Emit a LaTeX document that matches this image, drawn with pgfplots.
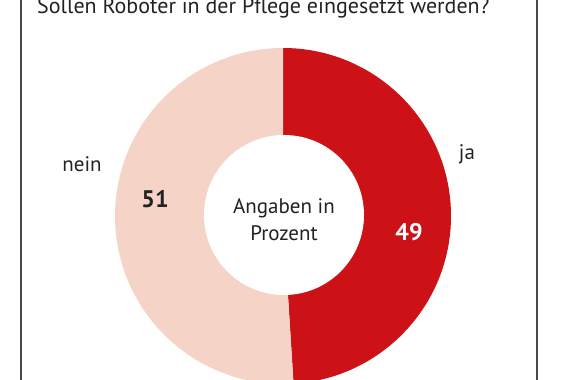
\documentclass[border=0pt]{standalone}
\usepackage{pgfplots}
\pgfplotsset{compat=1.18}
\usepackage{fontspec}
\setmainfont{PT Sans}
\definecolor{jared}{HTML}{CC1216}
\definecolor{neinpink}{HTML}{F5D4C7}
\definecolor{txt}{HTML}{222222}
\definecolor{frame}{HTML}{4A4A4A}
% values (percent)
\def\valja{49}
\def\valnein{51}
\begin{document}
\begin{tikzpicture}
\begin{axis}[at={(0,0)}, anchor=south west,
  width=576bp, height=380bp, scale only axis,
  xmin=0, xmax=576, ymin=0, ymax=380,
  axis lines=none, clip=true]
  \pgfmathsetmacro{\aja}{90-\valja*3.6}
  \pgfmathsetmacro{\anein}{\aja-\valnein*3.6}
  % ja
  \fill[jared] (axis cs:283,164) -- ++(90:168bp) arc[start angle=90, end angle=\aja, radius=168bp] -- cycle;
  % nein
  \fill[neinpink] (axis cs:283,164) -- ++(\aja:168bp) arc[start angle=\aja, end angle=\anein, radius=168bp] -- cycle;
  % hole
  \fill[white] (axis cs:284,165) circle[radius=80bp];
  % frame
  \draw[frame, line width=1.3bp] (axis cs:21,0) -- (axis cs:21,380);
  \draw[frame, line width=1.3bp] (axis cs:537,0) -- (axis cs:537,380);
  % title
  \node[anchor=base west, inner sep=0pt, text=txt, font=\fontsize{22bp}{26bp}\selectfont] at (axis cs:37,367) {Sollen Roboter in der Pflege eingesetzt werden?};
  % labels
  \node[anchor=base, inner sep=0pt, text=txt, font=\fontsize{21bp}{25bp}\selectfont] at (axis cs:284,167) {Angaben in};
  \node[anchor=base, inner sep=0pt, text=txt, font=\fontsize{21bp}{25bp}\selectfont] at (axis cs:284,140) {Prozent};
  \node[anchor=base, inner sep=0pt, text=txt, font=\fontsize{21bp}{25bp}\selectfont] at (axis cs:82,209) {nein};
  \node[anchor=base, inner sep=0pt, text=txt, font=\fontsize{21bp}{25bp}\selectfont] at (axis cs:467,221) {ja};
  \node[anchor=base, inner sep=0pt, text=txt, font=\bfseries\fontsize{24bp}{28bp}\selectfont] at (axis cs:155,173) {\valnein};
  \node[anchor=base, inner sep=0pt, text=white, font=\bfseries\fontsize{24bp}{28bp}\selectfont] at (axis cs:409,140) {\valja};
\end{axis}
\pgfresetboundingbox
\path[use as bounding box] (0,0) rectangle (576bp,380bp);
\end{tikzpicture}
\end{document}
